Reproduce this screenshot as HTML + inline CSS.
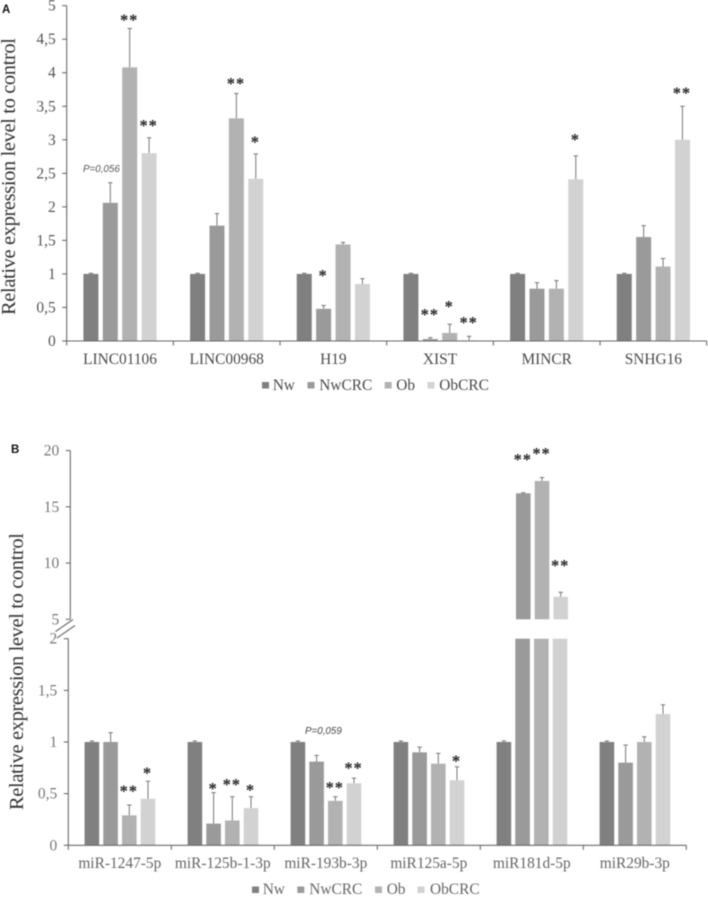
<!DOCTYPE html>
<html>
<head>
<meta charset="utf-8">
<title>Relative expression levels</title>
<style>
html,body{margin:0;padding:0;background:#fff;width:708px;height:897px;overflow:hidden}
svg{display:block;filter:blur(0.45px)}
text{font-family:"Liberation Serif",serif}
</style>
</head>
<body>
<svg id="chart" xmlns="http://www.w3.org/2000/svg" width="708" height="897" viewBox="0 0 708 897">
  <rect x="0" y="0" width="708" height="897" fill="#fff"/>
  <text x="2" y="13" style="font-family:'Liberation Sans',sans-serif" font-weight="bold" font-size="11.5" fill="#111">A</text>
  <text x="11" y="453" style="font-family:'Liberation Sans',sans-serif" font-weight="bold" font-size="11.5" fill="#111">B</text>
  <text transform="translate(15,315) rotate(-90)" font-size="20.5" fill="#333" textLength="277" lengthAdjust="spacing">Relative expression level to control</text>
  <text transform="translate(23,810) rotate(-90)" font-size="20.5" fill="#333" textLength="277" lengthAdjust="spacing">Relative expression level to control</text>
  <text x="83" y="172" style="font-family:'Liberation Sans',sans-serif" font-style="italic" font-size="9.8" fill="#555">P=0,056</text>
  <text x="305" y="734" style="font-family:'Liberation Sans',sans-serif" font-style="italic" font-size="9.8" fill="#444">P=0,059</text>
  <g id="layer"></g>
</svg>
<script>
// Shared
const seriesNames = ['Nw', 'NwCRC', 'Ob', 'ObCRC'];
const seriesColors = ['#808080', '#9a9a9a', '#b2b2b2', '#d2d2d2'];

// Panel A
const categoriesA = ['LINC01106', 'LINC00968', 'H19', 'XIST', 'MINCR', 'SNHG16'];
const ticksA = ['0', '0,5', '1', '1,5', '2', '2,5', '3', '3,5', '4', '4,5', '5'];
const tickValuesA = [0, 0.5, 1, 1.5, 2, 2.5, 3, 3.5, 4, 4.5, 5];
const nwA = [1, 1, 1, 1, 1, 1];
const nwCrcA = [2.06, 1.72, 0.48, 0.03, 0.78, 1.55];
const obA = [4.08, 3.32, 1.44, 0.12, 0.78, 1.11];
const obCrcA = [2.8, 2.42, 0.85, 0.01, 2.41, 3.0];
const nwErrA = [1.01, 1.01, 1.01, 1.01, 1.01, 1.01];
const nwCrcErrA = [2.36, 1.9, 0.53, 0.05, 0.87, 1.72];
const obErrA = [4.66, 3.69, 1.47, 0.25, 0.9, 1.23];
const obCrcErrA = [3.03, 2.79, 0.93, 0.07, 2.76, 3.5];
const nwCrcSigA = ['', '', '*', '**', '', ''];
const obSigA = ['**', '**', '', '*', '', ''];
const obCrcSigA = ['**', '*', '', '**', '*', '**'];
const nwCrcSigLevelA = [0, 0, 1.01, 0.43, 0, 0];
const obSigLevelA = [4.82, 3.87, 0, 0.55, 0, 0];
const obCrcSigLevelA = [3.25, 3.0, 0, 0.31, 3.04, 3.73];

// Panel B
const categoriesB = ['miR-1247-5p', 'miR-125b-1-3p', 'miR-193b-3p', 'miR125a-5p', 'miR181d-5p', 'miR29b-3p'];
const ticksLowB = ['0', '0,5', '1', '1,5', '2'];
const tickValuesLowB = [0, 0.5, 1, 1.5, 2];
const ticksHighB = ['5', '10', '15', '20'];
const tickValuesHighB = [5, 10, 15, 20];
const nwB = [1, 1, 1, 1, 1, 1];
const nwCrcB = [1, 0.21, 0.81, 0.9, 16.2, 0.8];
const obB = [0.29, 0.24, 0.43, 0.79, 17.3, 1];
const obCrcB = [0.45, 0.36, 0.6, 0.63, 7, 1.27];
const nwErrB = [1.01, 1.01, 1.01, 1.01, 1.01, 1.01];
const nwCrcErrB = [1.09, 0.51, 0.87, 0.95, 16.25, 0.97];
const obErrB = [0.39, 0.47, 0.47, 0.89, 17.6, 1.05];
const obCrcErrB = [0.62, 0.47, 0.65, 0.76, 7.4, 1.36];
const nwCrcSigB = ['', '*', '', '', '**', ''];
const obSigB = ['**', '**', '**', '', '**', ''];
const obCrcSigB = ['*', '*', '**', '*', '**', ''];
const nwCrcSigLevelB = [0, 0.57, 0, 0, 19.4, 0];
const obSigLevelB = [0.55, 0.61, 0.58, 0, 19.93, 0];
const obCrcSigLevelB = [0.72, 0.56, 0.77, 0.84, 10, 0];

const NS = 'http://www.w3.org/2000/svg';
const layer = document.getElementById('layer');

function mk(tag, attrs, txt) {
  const el = document.createElementNS(NS, tag);
  for (const k in attrs) el.setAttribute(k, attrs[k]);
  if (txt !== undefined) el.textContent = txt;
  layer.appendChild(el);
  return el;
}

// Axis functions
const yA = v => 341 - v * 67.07;
const xGroupA = g => 66.7 + g * 106.67;
const xBarA = (g, s) => xGroupA(g) + 16.7 + s * 19.4;

const yLowB = v => 845.3 - v * 103.3;
const yHighB = v => 619.3 - (v - 5) * 11.25;
const xGroupB = g => 68.3 + g * 103;
const xBarB = (g, s) => xGroupB(g) + 16.3 + s * 18.7;

const BREAK_LOW = 2;
const BREAK_HIGH = 5;

function errorBar(cx, yFrom, yTop, name) {
  const v = mk('line', {x1: cx, x2: cx, y1: yFrom, y2: yTop, stroke: '#777', 'stroke-width': 1});
  
  
  const c = mk('line', {x1: cx - 2.2, x2: cx + 2.2, y1: yTop, y2: yTop, stroke: '#777', 'stroke-width': 1});
  
  
}

function star(cx, cy, label, name) {
  const el = mk('text', {x: cx - 0.5, y: cy + 7.8, 'text-anchor': 'middle', 'font-size': 16.5, 'letter-spacing': 0.9, 'font-weight': 'bold', fill: '#222'}, label);
  
  
}

function axisLine(x1, y1, x2, y2, name) {
  const el = mk('line', {x1, y1, x2, y2, stroke: '#6a6a6a', 'stroke-width': 1.1});
  
  
}

function yTick(xAxis, y, label, color, name) {
  axisLine(xAxis - 4.5, y, xAxis, y, name + '-mark');
  const t = mk('text', {x: xAxis - 11, y: y + 5, 'text-anchor': 'end', 'font-size': 15.5, fill: color}, label);
  
  
}

function catLabel(cx, y, label, color, name) {
  const t = mk('text', {x: cx, y, 'text-anchor': 'middle', 'font-size': 15.4, fill: color}, label);
  
  
}

// ---------- Panel A ----------
const valuesA = [nwA, nwCrcA, obA, obCrcA];
const errorsA = [nwErrA, nwCrcErrA, obErrA, obCrcErrA];
const sigsA = [null, nwCrcSigA, obSigA, obCrcSigA];
const sigLevelsA = [null, nwCrcSigLevelA, obSigLevelA, obCrcSigLevelA];
const BAR_W_A = 15;

categoriesA.forEach((cat, g) => {
  valuesA.forEach((vals, s) => {
    const x = xBarA(g, s), top = yA(vals[g]), cx = x + BAR_W_A / 2;
    const nm = 'a-' + cat.toLowerCase() + '-' + seriesNames[s].toLowerCase();
    errorBar(cx, top, yA(errorsA[s][g]), nm);
    const r = mk('rect', {x, y: top, width: BAR_W_A, height: yA(0) - top, fill: seriesColors[s]});
    
    
    if (sigsA[s] && sigsA[s][g]) star(cx, yA(sigLevelsA[s][g]), sigsA[s][g], nm);
  });
  catLabel(xGroupA(g) + 53.3, 364, cat, '#4a4a4a', 'a-category-label-' + cat.toLowerCase());
});
axisLine(66.7, yA(0), 66.7, yA(5), 'a-y-axis-line');
axisLine(66.2, yA(0), 706.7, yA(0), 'a-x-axis-line');
tickValuesA.forEach((v, i) => yTick(66.7, yA(v), ticksA[i], '#555', 'a-y-tick-' + i));
for (let g = 0; g <= categoriesA.length; g++) {
  axisLine(xGroupA(g), yA(0), xGroupA(g), yA(0) + 4.5, 'a-x-tick-' + g);
}

// ---------- Panel B ----------
const valuesB = [nwB, nwCrcB, obB, obCrcB];
const errorsB = [nwErrB, nwCrcErrB, obErrB, obCrcErrB];
const sigsB = [null, nwCrcSigB, obSigB, obCrcSigB];
const sigLevelsB = [null, nwCrcSigLevelB, obSigLevelB, obCrcSigLevelB];
const BAR_W_B = 14.6;

categoriesB.forEach((cat, g) => {
  valuesB.forEach((vals, s) => {
    const x = xBarB(g, s), cx = x + BAR_W_B / 2, v = vals[g];
    const nm = 'b-' + cat.toLowerCase() + '-' + seriesNames[s].toLowerCase();
    if (v > BREAK_LOW) {
      const top = yHighB(v), xh = x + 0.7;
      errorBar(xh + BAR_W_B / 2, top, yHighB(errorsB[s][g]), nm);
      const low = mk('rect', {x, y: yLowB(BREAK_LOW), width: BAR_W_B, height: yLowB(0) - yLowB(BREAK_LOW), fill: seriesColors[s]});
      
      
      const high = mk('rect', {x: xh, y: top, width: BAR_W_B, height: yHighB(BREAK_HIGH) - top, fill: seriesColors[s]});
      
      
      if (sigsB[s] && sigsB[s][g]) star(xh + BAR_W_B / 2, yHighB(sigLevelsB[s][g]), sigsB[s][g], nm);
    } else {
      const top = yLowB(v);
      errorBar(cx, top, yLowB(errorsB[s][g]), nm);
      const r = mk('rect', {x, y: top, width: BAR_W_B, height: yLowB(0) - top, fill: seriesColors[s]});
      
      
      if (sigsB[s] && sigsB[s][g]) star(cx, yLowB(sigLevelsB[s][g]), sigsB[s][g], nm);
    }
  });
  catLabel(xGroupB(g) + 51.5, 868, cat, '#666', 'b-category-label-' + cat.toLowerCase());
});
axisLine(68.3, yLowB(0), 68.3, yLowB(2), 'b-y-axis-lower-line');
axisLine(70.3, yHighB(5), 70.3, yHighB(20), 'b-y-axis-upper-line');
axisLine(68, yLowB(0), 686.3, yLowB(0), 'b-x-axis-line');
tickValuesLowB.forEach((v, i) => yTick(68.3, yLowB(v), ticksLowB[i], '#777', 'b-y-tick-low-' + i));
tickValuesHighB.forEach((v, i) => yTick(70.3, yHighB(v), ticksHighB[i], '#777', 'b-y-tick-high-' + i));
for (let g = 0; g <= categoriesB.length; g++) {
  axisLine(xGroupB(g), yLowB(0), xGroupB(g), yLowB(0) + 4.5, 'b-x-tick-' + g);
}
axisLine(55.5, 631.5, 73, 619.5, 'b-axis-break-upper');
axisLine(57, 638, 75, 625.5, 'b-axis-break-lower');

// ---------- Legends ----------
const legendSwatchA = [262, 307.5, 384.7, 427.5];
const legendTextA = [272.7, 319.3, 396.3, 439.3];
const legendSwatchB = [252, 297.3, 375, 417.5];
const legendTextB = [262.7, 309.3, 386.7, 430];

function legend(swatches, texts, ySwatch, baseline, color, prefix) {
  seriesNames.forEach((n, i) => {
    const r = mk('rect', {x: swatches[i], y: ySwatch, width: 7, height: 6.5, fill: seriesColors[i]});
    
    
    const t = mk('text', {x: texts[i], y: baseline, 'font-size': 15.4, fill: color}, n);
    
    
  });
}
legend(legendSwatchA, legendTextA, 382, 390, '#4a4a4a', 'a');
legend(legendSwatchB, legendTextB, 886.5, 894, '#666', 'b');
</script>
</body>
</html>
